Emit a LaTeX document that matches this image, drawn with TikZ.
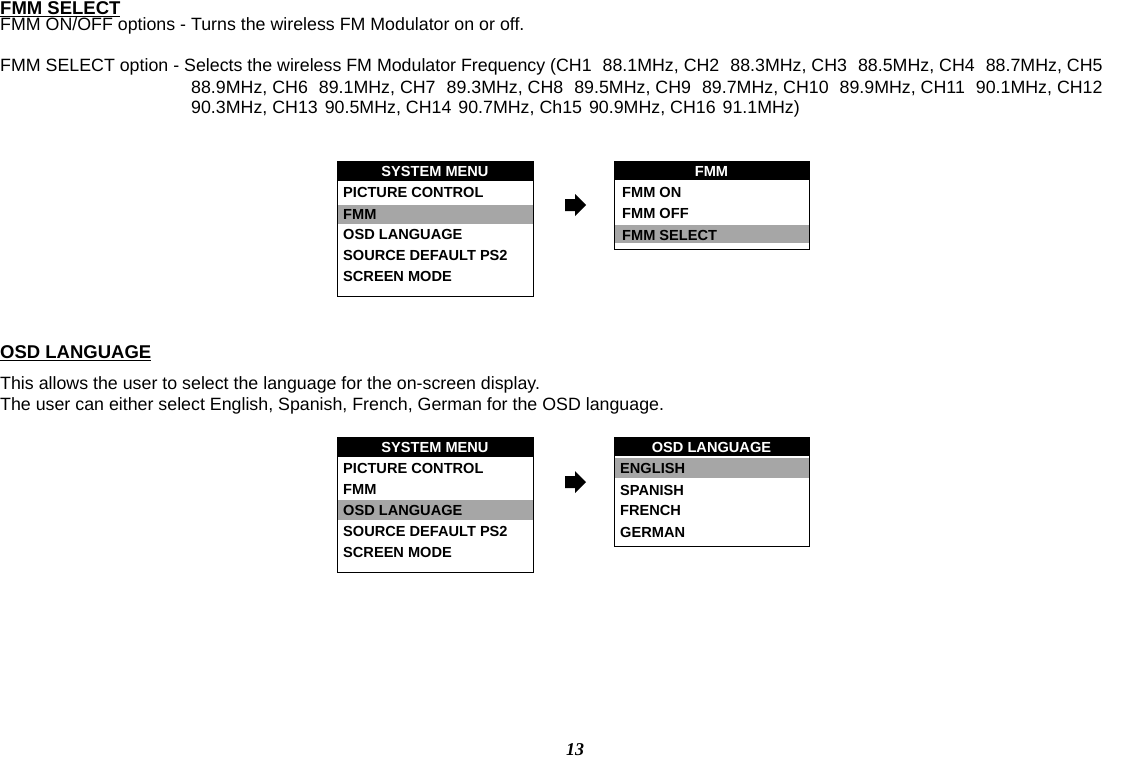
\documentclass[tikz,border=0pt]{standalone}
\usepackage{fontspec}
\setmainfont{Liberation Sans}
\newfontfamily\serifnum{Liberation Serif}
\newcommand{\gp}{\hspace{11pt}}
\begin{document}
\begin{tikzpicture}[x=1pt,y=-1pt,
 body/.style={anchor=west,inner sep=0pt,font=\fontsize{17.8}{17.8}\selectfont},
 head/.style={anchor=west,inner sep=0pt,font=\fontsize{18.5}{18.5}\selectfont\bfseries},
 item/.style={anchor=west,inner sep=0pt,font=\fontsize{14.6}{14.6}\selectfont\bfseries},
 title/.style={anchor=center,inner sep=0pt,text=white,font=\fontsize{14.6}{14.6}\selectfont\bfseries},
 frame/.style={draw=black,line width=0.8pt},
 hl/.style={fill=black!35},
 arr/.style={fill=black}]
\useasboundingbox (0,0) rectangle (1144,758);
\node[head] (h1) at (0,9) {\underline{FMM SELECT}};
\node[body] (t1) at (0,26) {FMM ON/OFF options - Turns the wireless FM Modulator on or off.};
\node[body] (t2) at (0,67) {FMM SELECT option - Selects the wireless FM Modulator Frequency (CH1\gp88.1MHz, CH2\gp88.3MHz, CH3\gp88.5MHz, CH4\gp88.7MHz, CH5};
\node[body] (t3) at (191,88) {88.9MHz, CH6\gp89.1MHz, CH7\gp89.3MHz, CH8\gp89.5MHz, CH9\gp89.7MHz, CH10\gp89.9MHz, CH11\gp90.1MHz, CH12};
\node[body] (t4) at (191,109) {90.3MHz, CH13\hspace{7pt}90.5MHz, CH14\hspace{7pt}90.7MHz, Ch15\hspace{7pt}90.9MHz, CH16\hspace{7pt}91.1MHz)};
% menu 1
\fill (337,161) rectangle (533,181);
\fill[hl] (337,205) rectangle (533,224);
\draw[frame] (337,161) rectangle (533,296);
\node[title] (m1t) at (435,171) {SYSTEM MENU};
\node[item] (m1a) at (343,192) {PICTURE CONTROL};
\node[item] (m1b) at (343,214) {FMM};
\node[item] (m1c) at (343,234) {OSD LANGUAGE};
\node[item] (m1d) at (343,255) {SOURCE DEFAULT PS2};
\node[item] (m1e) at (343,276) {SCREEN MODE};
\fill[arr] (565,199) -- (575,199) -- (575,194) -- (586,205) -- (575,216) -- (575,211) -- (565,211) -- cycle;
% menu 2
\fill (614,161) rectangle (809,180);
\fill[hl] (614,225) rectangle (809,243);
\draw[frame] (614,161) rectangle (809,249);
\node[title] (m2t) at (711.5,171) {FMM};
\node[item] (m2a) at (622,192) {FMM ON};
\node[item] (m2b) at (622,213) {FMM OFF};
\node[item] (m2c) at (622,235) {FMM SELECT};
\node[head] (h2) at (0,353) {\underline{OSD LANGUAGE}};
\node[body] (u1) at (0,385) {This allows the user to select the language for the on-screen display.};
\node[body] (u2) at (0,406) {The user can either select English, Spanish, French, German for the OSD language.};
% menu 3
\fill (337,437) rectangle (533,457);
\fill[hl] (337,500) rectangle (533,520);
\draw[frame] (337,437) rectangle (533,572);
\node[title] (m3t) at (435,447) {SYSTEM MENU};
\node[item] (m3a) at (343,468) {PICTURE CONTROL};
\node[item] (m3b) at (343,489) {FMM};
\node[item] (m3c) at (343,510) {OSD LANGUAGE};
\node[item] (m3d) at (343,531) {SOURCE DEFAULT PS2};
\node[item] (m3e) at (343,552) {SCREEN MODE};
\fill[arr] (565,476) -- (575,476) -- (575,471) -- (586,482) -- (575,493) -- (575,488) -- (565,488) -- cycle;
% menu 4
\fill (614,437) rectangle (809,456);
\fill[hl] (614,458) rectangle (809,478);
\draw[frame] (614,437) rectangle (809,546);
\node[title] (m4t) at (711.5,447) {OSD LANGUAGE};
\node[item] (m4a) at (620,468) {ENGLISH};
\node[item] (m4b) at (620,490) {SPANISH};
\node[item] (m4c) at (620,510) {FRENCH};
\node[item] (m4d) at (620,532) {GERMAN};
\node[inner sep=0pt,font=\serifnum\fontsize{18}{18}\selectfont\bfseries\itshape] (pg) at (575,750) {13};
\end{tikzpicture}
\end{document}
